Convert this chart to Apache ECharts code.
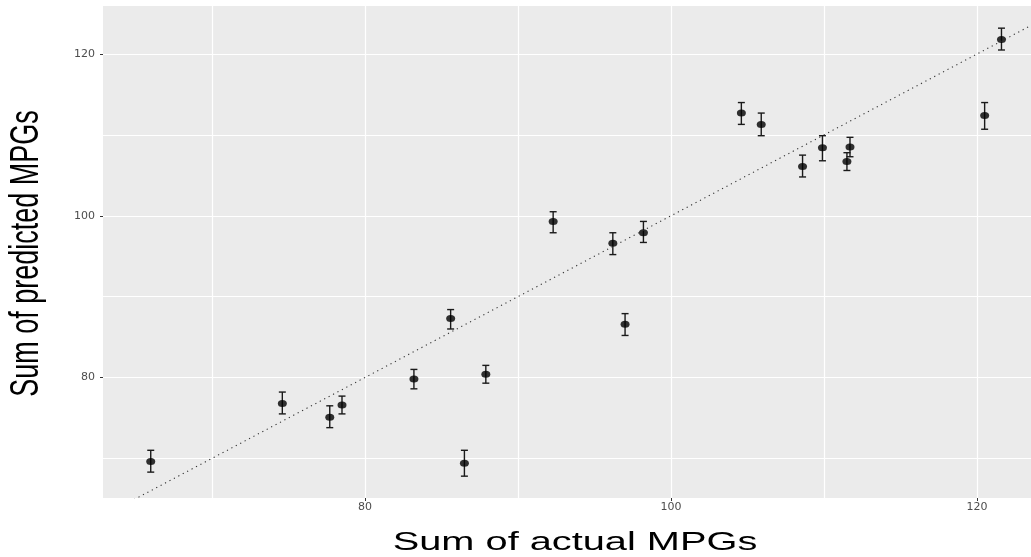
<!DOCTYPE html>
<html>
<head>
<meta charset="utf-8">
<style>
html, body { margin: 0; padding: 0; background: #fff; }
#main { width: 1031px; height: 557px; }
</style>
</head>
<body>
<div id="main"></div>
<script src="https://cdn.jsdelivr.net/npm/echarts@6/dist/echarts.min.js"></script>
<script>
// values
var actual    = [66.0, 74.6, 77.7, 78.5, 83.2, 85.6, 86.5, 87.9, 92.3, 96.2, 97.0, 98.2, 104.6, 105.9, 108.6, 109.9, 111.5, 111.7, 120.5, 121.6];
var predicted = [69.6, 76.8, 75.1, 76.6, 79.8, 87.3, 69.4, 80.4, 99.3, 96.6, 86.6, 97.9, 112.7, 111.3, 106.1, 108.4, 106.7, 108.5, 112.4, 121.8];
var lower     = [68.3, 75.5, 73.8, 75.5, 78.6, 86.0, 67.8, 79.3, 97.9, 95.2, 85.2, 96.7, 111.3, 109.9, 104.8, 106.8, 105.6, 107.3, 110.7, 120.5];
var upper     = [71.0, 78.2, 76.5, 77.7, 81.0, 88.4, 71.0, 81.5, 100.5, 97.9, 87.9, 99.3, 114.0, 112.7, 107.5, 109.9, 107.8, 109.7, 114.0, 123.2];
var xTicks = [80, 100, 120];
var yTicks = [80, 100, 120];
var diagonal = [60, 130];   // y = x reference line

var xRange = [62.88, 123.53];
var yRange = [65.1, 125.94];

var myChart = echarts.init(document.getElementById('main'));

var points = actual.map(function (a, i) { return [a, predicted[i]]; });
var bars = actual.map(function (a, i) { return [a, lower[i], upper[i]]; });
var refLine = diagonal.map(function (v) { return [v, v]; });

// axis that only draws the white grid (every 10)
function gridAxis(range) {
    return {
        type: 'value',
        min: range[0],
        max: range[1],
        splitNumber: 6,
        axisLine: { show: false },
        axisTick: { show: false },
        axisLabel: { show: false },
        splitLine: { show: true, showMinLine: false, showMaxLine: false, lineStyle: { color: '#fff', width: 1.2 } }
    };
}
// axis that only draws ticks + labels at the labelled values
function labelAxis(range, ticks, isX) {
    return {
        type: 'value',
        min: range[0],
        max: range[1],
        position: isX ? 'bottom' : 'left',
        axisLine: { show: false },
        axisTick: { show: true, length: 3, customValues: ticks, lineStyle: { color: '#333' } },
        axisLabel: {
            customValues: ticks,
            color: '#4D4D4D',
            fontSize: 11,
            fontFamily: 'DejaVu Sans',
            margin: isX ? 4 : 8
        },
        splitLine: { show: false }
    };
}

var option = {
    animation: false,
    grid: {
        left: 103, top: 6, right: 0, bottom: 59,
        show: true, backgroundColor: '#EBEBEB', borderWidth: 0
    },
    xAxis: [gridAxis(xRange), labelAxis(xRange, xTicks, true)],
    yAxis: [gridAxis(yRange), labelAxis(yRange, yTicks, false)],
    graphic: [
        {
            type: 'text', x: 575, y: 542.5, scaleX: 1.5,
            style: { text: 'Sum of actual MPGs', align: 'center', verticalAlign: 'middle',
                     fontSize: 26.5, fontFamily: 'Liberation Sans', fill: '#000' }
        },
        {
            type: 'text', x: 27, y: 253.5, rotation: Math.PI / 2, scaleY: 1.5,
            style: { text: 'Sum of predicted MPGs', align: 'center', verticalAlign: 'middle',
                     fontSize: 27, fontFamily: 'Liberation Sans', fill: '#000' }
        }
    ],
    series: [
        {
            type: 'line',
            data: refLine,
            symbol: 'none',
            silent: true,
            lineStyle: { color: '#333', width: 1.1, type: [1.2, 3.8] }
        },
        {
            type: 'custom',
            data: bars,
            encode: { x: 0, y: [1, 2] },
            renderItem: function (params, api) {
                var x = api.value(0);
                var top = api.coord([x, api.value(2)]);
                var bot = api.coord([x, api.value(1)]);
                var half = 3.5;
                var st = { stroke: '#1a1a1a', lineWidth: 1.4 };
                return {
                    type: 'group',
                    children: [
                        { type: 'line', shape: { x1: top[0], y1: top[1], x2: bot[0], y2: bot[1] }, style: st },
                        { type: 'line', shape: { x1: top[0] - half, y1: top[1], x2: top[0] + half, y2: top[1] }, style: st },
                        { type: 'line', shape: { x1: bot[0] - half, y1: bot[1], x2: bot[0] + half, y2: bot[1] }, style: st }
                    ]
                };
            }
        },
        {
            type: 'scatter',
            data: points,
            symbol: 'circle',
            symbolSize: [9, 7],
            itemStyle: { color: '#000' }
        }
    ]
};

myChart.setOption(option);
</script>
</body>
</html>
